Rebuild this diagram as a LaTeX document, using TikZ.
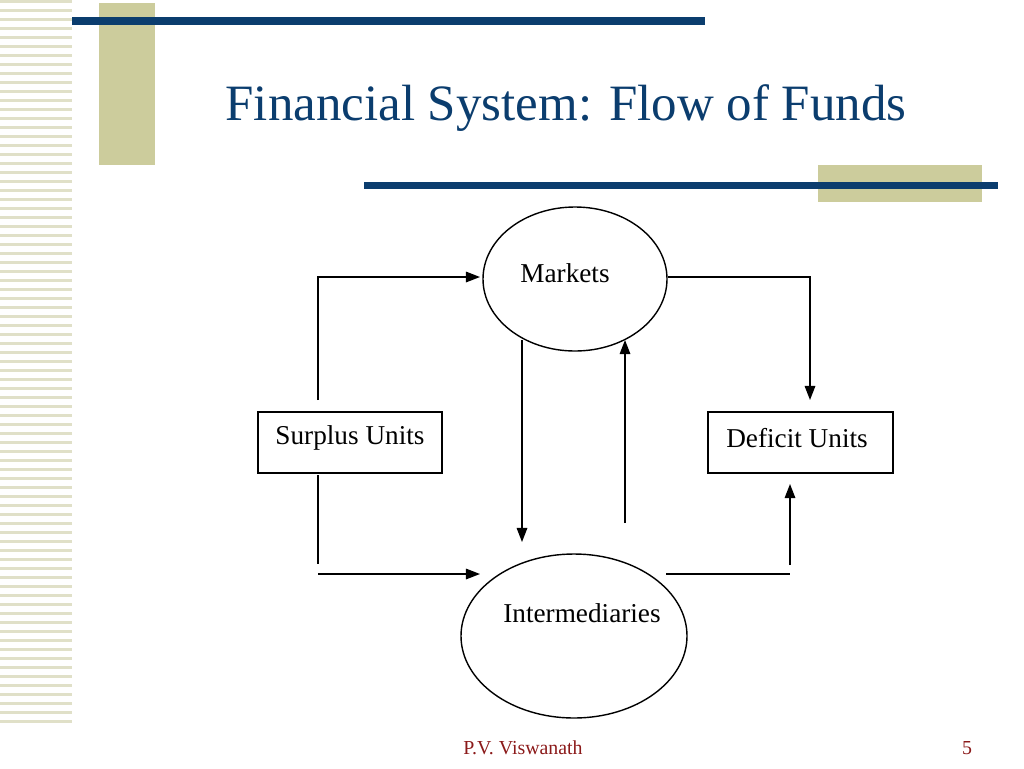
\documentclass[tikz,border=0pt]{standalone}
\usepackage{fontspec}
\setmainfont{Liberation Serif}
\usetikzlibrary{arrows.meta}
\definecolor{olive}{HTML}{CCCC9C}
\definecolor{stripe}{HTML}{E0E0C8}
\definecolor{navy}{HTML}{0B3D6E}
\definecolor{footred}{HTML}{8B1A1A}
\tikzset{
  flow/.style={thick, -{Triangle[length=8pt,width=6pt]}},
  line/.style={thick},
  unit/.style={draw, thick, minimum width=3.68cm, minimum height=1.22cm, font=\fontsize{15.5}{18}\selectfont},
  label/.style={font=\fontsize{15.5}{18}\selectfont}
}
\begin{document}
\begin{tikzpicture}[x=0.02cm, y=-0.02cm]
		\useasboundingbox (0,0) rectangle (1024,768);
		
		% Streifen links
		\foreach \y in {0,9,...,725} {
			\fill[stripe] (0,\y) rectangle (72,\y+3);
		}
		
		% Balken oben
		\fill[olive] (99,3) rectangle (155,165);
		\fill[navy] (72,17) rectangle (705,25);
		\fill[olive] (818,165) rectangle (982,202);
		\fill[navy] (364,182) rectangle (998,189);
		
		% Titel
		\node[navy, font=\fontsize{29}{34}\selectfont] (title) at (566,108) {Financial System: Flow of Funds};
		
		% Knoten
		\draw[thick] (575,279) ellipse (92 and 72);
		\node[label] (markets) at (565,273) {Markets};
		\draw[thick] (574,636) ellipse (113 and 82);
		\node[label] (inter) at (582,613) {Intermediaries};
		\draw[thick] (258,412) rectangle (442,473);
		\node[label] (surplus) at (350,438) {Surplus Units};
		\draw[thick] (708,412) rectangle (893,473);
		\node[label] (deficit) at (797,438) {Deficit Units};
		
		% Hilfspunkte
		\coordinate (s1) at (318,400);
		\coordinate (s2) at (318,277);
		\coordinate (m1) at (480,277);
		\coordinate (m2) at (668,277);
		\coordinate (d1) at (810,277);
		\coordinate (d2) at (810,400);
		\coordinate (m3) at (522,340);
		\coordinate (i1) at (522,542);
		\coordinate (i2) at (625,523);
		\coordinate (m4) at (625,340);
		\coordinate (s3) at (318,475);
		\coordinate (s4) at (318,564);
		\coordinate (s5) at (318,574);
		\coordinate (i3) at (480,574);
		\coordinate (i4) at (666,574);
		\coordinate (d3) at (790,574);
		\coordinate (d4) at (790,565);
		\coordinate (d5) at (790,484);
		
		% Pfeile
		\draw[flow] (s1) -- (s2) -- (m1);
		\draw[flow] (m2) -- (d1) -- (d2);
		\draw[flow] (m3) -- (i1);
		\draw[flow] (i2) -- (m4);
		\draw[line] (s3) -- (s4);
		\draw[flow] (s5) -- (i3);
		\draw[line] (i4) -- (d3);
		\draw[flow] (d4) -- (d5);
		
		% Fusszeile
		\node[footred, font=\fontsize{11.3}{13}\selectfont] (author) at (523,748) {P.V. Viswanath};
		\node[footred, font=\fontsize{11.3}{13}\selectfont] (page) at (967,748) {5};
		
	\end{tikzpicture}
\end{document}
